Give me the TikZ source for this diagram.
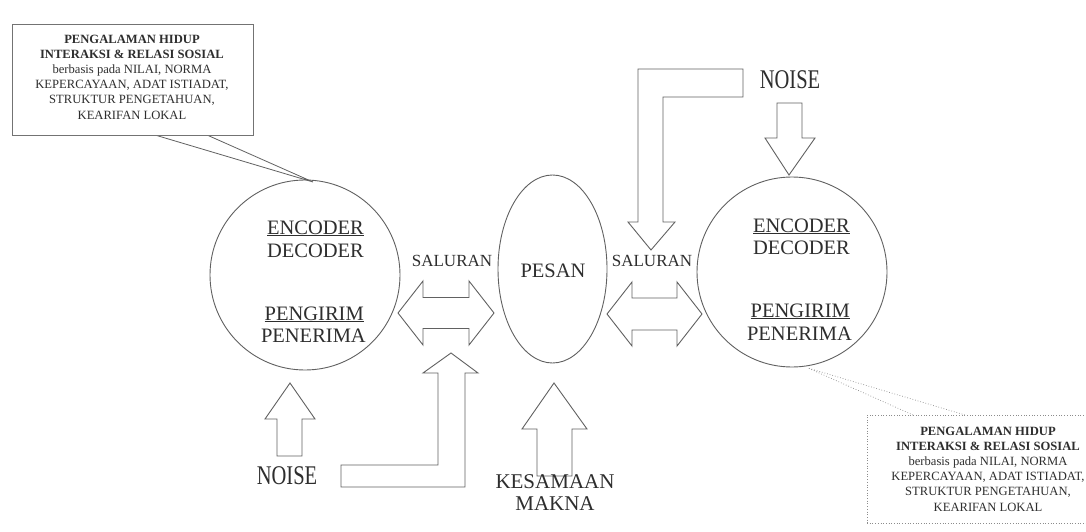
\documentclass[tikz,border=0pt]{standalone}
\usepackage{fontspec}
\setmainfont{Liberation Serif}
\usetikzlibrary{shapes.geometric}

\begin{document}
\begin{tikzpicture}[x=1pt,y=-1pt,
  outline/.style={draw=black!62, line width=0.9pt},
  blockarrow/.style={draw=black!62, line width=0.9pt, fill=white, line join=miter},
  label/.style={text=black!82, inner sep=0pt},
  big/.style={label, font=\fontsize{20.5}{24}\selectfont},
  mid/.style={label, font=\fontsize{17}{20}\selectfont},
  note/.style={label, align=center, font=\fontsize{12.6}{15.2}\selectfont},
  noisetext/.style={label, font=\fontsize{27}{30}\selectfont}
]
\clip (0,0) rectangle (1086,532);
\fill[white] (0,0) rectangle (1086,532);

% --- participants and message ---
\node[outline, circle, minimum size=190pt, inner sep=0pt] (lcirc) at (305,275) {};
\node[outline, circle, minimum size=190pt, inner sep=0pt] (rcirc) at (792,272) {};
\node[outline, ellipse, minimum width=109pt, minimum height=188pt, inner sep=0pt] (pesan) at (552.5,269) {};
\node[big, anchor=base] (pesantxt) at (553,277) {PESAN};

% left participant roles
\node[big, anchor=base east] (lenc) at (364,234) {\underline{ENCODER}};
\node[big, anchor=base east] (ldec) at (364,257) {DECODER};
\node[big, anchor=base east] (lsnd) at (364,320) {\underline{PENGIRIM}};
\node[big, anchor=base east] (lrcv) at (366,342) {PENERIMA};

% right participant roles
\node[big, anchor=base east] (renc) at (850,232) {\underline{ENCODER}};
\node[big, anchor=base east] (rdec) at (850,254) {DECODER};
\node[big, anchor=base east] (rsnd) at (850,317) {\underline{PENGIRIM}};
\node[big, anchor=base east] (rrcv) at (852,340) {PENERIMA};

% channels
\node[mid, anchor=base] (lchan) at (452,266) {SALURAN};
\node[mid, anchor=base] (rchan) at (652,266) {SALURAN};

% double block arrows (channels)
\draw[blockarrow] (398,313) -- (423,281) -- (423,297.5) -- (469,297.5) -- (469,281)
  -- (494,313) -- (469,345) -- (469,328.5) -- (423,328.5) -- (423,345) -- cycle;
\draw[blockarrow] (607,314) -- (632,282) -- (632,298) -- (677,298) -- (677,282)
  -- (702,314) -- (677,346) -- (677,330) -- (632,330) -- (632,346) -- cycle;

% noise into the left participant
\draw[blockarrow] (290,383) -- (315,419) -- (302,419) -- (302,456) -- (277,456)
  -- (277,419) -- (265,419) -- cycle;
\node[noisetext, anchor=base] (lnoise) at (287,484) {\scalebox{0.76}[1]{NOISE}};

% noise into the left channel (bent arrow)
\draw[blockarrow] (341,465) -- (438,465) -- (438,373) -- (423,373) -- (451,353)
  -- (478,373) -- (465,373) -- (465,487) -- (341,487) -- cycle;

% shared meaning
\draw[blockarrow] (554,383) -- (587,429) -- (572,429) -- (572,476) -- (537,476)
  -- (537,429) -- (522,429) -- cycle;
\node[label, align=center, anchor=base, font=\fontsize{21}{22}\selectfont] (makna)
  at (555,510) {KESAMAAN\\MAKNA};

% noise into the right channel (bent arrow)
\draw[blockarrow] (743,69) -- (638,69) -- (638,222) -- (628,222) -- (651,250)
  -- (675,222) -- (663,222) -- (663,97) -- (743,97) -- cycle;

% noise into the right participant
\node[noisetext, anchor=base] (rnoise) at (790,89) {\scalebox{0.76}[1]{NOISE}};
\draw[blockarrow] (777,103) -- (802,103) -- (802,138) -- (815,138) -- (789,175)
  -- (765,138) -- (777,138) -- cycle;

% --- callout for the left participant ---
\coordinate (ltip) at (313,182);
\coordinate (lp1) at (155,135);
\coordinate (lp2) at (207,135);
\draw[outline, line width=0.8pt] (lp1) -- (ltip) -- (lp2);
\node[draw=black!55, line width=0.8pt, fill=white, minimum width=241pt, minimum height=111pt,
      inner sep=0pt] (lbox) at (132.5,79.5) {};
\node[note] (lboxtxt) at (132,77) {\textbf{PENGALAMAN HIDUP}\\\textbf{INTERAKSI \& RELASI SOSIAL}\\
  berbasis pada NILAI, NORMA\\KEPERCAYAAN, ADAT ISTIADAT,\\STRUKTUR PENGETAHUAN,\\KEARIFAN LOKAL};

% --- callout for the right participant (runs past the right edge) ---
\coordinate (rtip) at (808,368);
\coordinate (rp1) at (913,415);
\coordinate (rp2) at (965,415);
\draw[draw=black!45, line width=0.7pt, dotted] (rp1) -- (rtip) -- (rp2);
\node[draw=black!45, line width=0.7pt, dotted, minimum width=242pt, minimum height=108pt,
      inner sep=0pt] (rbox) at (988,469) {};
\node[note] (rboxtxt) at (988,469) {\textbf{PENGALAMAN HIDUP}\\\textbf{INTERAKSI \& RELASI SOSIAL}\\
  berbasis pada NILAI, NORMA\\KEPERCAYAAN, ADAT ISTIADAT,\\STRUKTUR PENGETAHUAN,\\KEARIFAN LOKAL};
\end{tikzpicture}
\end{document}
